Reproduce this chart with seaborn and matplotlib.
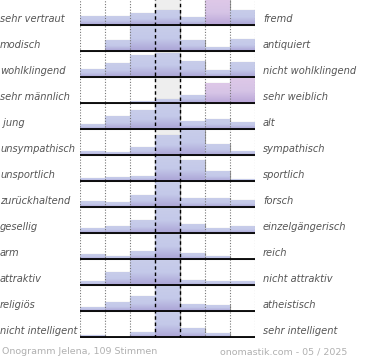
import numpy as np
import pandas as pd
import matplotlib
matplotlib.use("Agg")
import matplotlib.pyplot as plt
import seaborn as sns

# word pairs (left / right) and answer distribution over 7 steps
left_labels = ["sehr vertraut", "modisch", "wohlklingend", "sehr männlich", " jung",
               "unsympathisch", "unsportlich", "zurückhaltend", "gesellig", "arm",
               "attraktiv", "religiös", "nicht intelligent"]
right_labels = ["fremd", "antiquiert", "nicht wohlklingend", "sehr weiblich", "alt",
                "sympathisch", "sportlich", "forsch", "einzelgängerisch", "reich",
                "nicht attraktiv", "atheistisch", "sehr intelligent"]
shares = [
    [9, 9, 11.7, 14.7, 7.7, 25, 15.3],
    [0, 11, 25, 25, 10.6, 3.6, 11.6],
    [8.3, 13.7, 21.7, 23.7, 15.7, 7.3, 14.7],
    [0.3, 0.3, 1.7, 4, 8.3, 19.7, 25],
    [5, 13, 19, 25, 7.6, 9.6, 7.3],
    [4.3, 3.3, 7.7, 19.7, 25, 10.7, 4.3],
    [3.4, 4.4, 5.4, 25, 21.4, 9.7, 1.7],
    [5.7, 4.7, 12.4, 25, 9, 9, 6.7],
    [5.3, 6.6, 13, 25, 9, 4.6, 7],
    [4.6, 2.6, 7.6, 25, 6, 2.6, 0],
    [4, 13, 25, 25, 5, 4, 4],
    [4.3, 8.7, 14.7, 25, 7.3, 6.3, 0],
    [2, 0, 5.4, 25, 9.4, 4, 0],
]
footer_left = "Onogramm Jelena, 109 Stimmen"
footer_right = "onomastik.com - 05 / 2025"

sns.set_style("white")
plt.rcParams["font.family"] = ["DejaVu Sans"]

n = len(shares)
row_h = 26
fig = plt.figure(figsize=(3.7, 3.6), dpi=100)
ax = fig.add_axes([80 / 370, 22 / 360, 175 / 370, 338 / 360])
ax.set_xlim(0, 7)
ax.set_ylim(0, n * row_h)
ax.axis("off")

# grey middle column
ax.axvspan(3, 4, color="#eeeeee", zorder=0)

grad = np.linspace(0, 1, 50).reshape(-1, 1)
cmap_blue = matplotlib.colors.LinearSegmentedColormap.from_list("b", ["#aba4d6", "#c4c9e9", "#c8cdea"])
cmap_pink = matplotlib.colors.LinearSegmentedColormap.from_list("p", ["#b9a6d8", "#d6c4e6", "#dec8e8"])

for i, vals in enumerate(shares):
    base = (n - 1 - i) * row_h + 1
    df = pd.DataFrame({"step": np.arange(7) + 0.5, "share": vals})
    bars = ax.bar(df["step"], df["share"], width=1, bottom=base,
                  color="#c4c9e9", edgecolor="#9a9a9a", linewidth=0.8, zorder=2)
    for j, b in enumerate(bars):
        h = vals[j]
        if h <= 0:
            continue
        cm = cmap_pink if (h >= 19 and j >= 5) else cmap_blue
        im = ax.imshow(grad, extent=[j, j + 1, base, base + h], origin="lower",
                       cmap=cm, aspect="auto", zorder=2.5)
        im.set_clip_path(b)
    ax.plot([0, 7], [base, base], color="black", lw=1.3, zorder=4, solid_capstyle="butt")
    ax.text(-80 / 25, base + 5.5, left_labels[i], fontsize=7.1, style="italic",
            color="#555555", ha="left", va="center")
    ax.text(7 + 8 / 25, base + 5.5, right_labels[i], fontsize=7.1, style="italic",
            color="#555555", ha="left", va="center")

for x in [0, 1, 2, 5, 6, 7]:
    ax.axvline(x, color="#777777", ls=(0, (1, 1.5)), lw=0.8, zorder=3)
for x in [3, 4]:
    ax.axvline(x, color="black", ls=(0, (2.5, 2)), lw=1, zorder=5)

fig.text(2 / 370, 1 - 352 / 360, footer_left, fontsize=6.8, color="#b0b0b0",
         ha="left", va="center")
fig.text(220 / 370, 1 - 352 / 360, footer_right, fontsize=6.8, color="#b0b0b0",
         ha="left", va="center")

fig.savefig("out.png", dpi=100)
